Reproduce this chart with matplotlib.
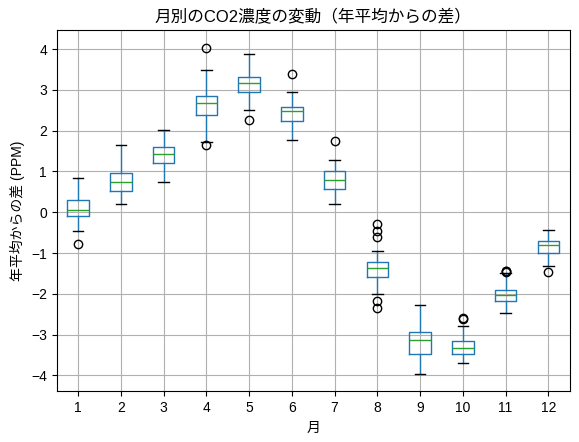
import matplotlib
matplotlib.use("Agg")
import matplotlib.pyplot as plt

plt.rcParams['font.family'] = ['Liberation Sans', 'Noto Sans CJK JP', 'DejaVu Sans']

months = [1, 2, 3, 4, 5, 6, 7, 8, 9, 10, 11, 12]
med = [0.06, 0.73, 1.42, 2.67, 3.17, 2.48, 0.78, -1.38, -3.14, -3.34, -2.04, -0.81]
q1 = [-0.08, 0.52, 1.21, 2.39, 2.94, 2.25, 0.58, -1.60, -3.48, -3.48, -2.17, -0.99]
q3 = [0.31, 0.97, 1.59, 2.86, 3.33, 2.59, 1.00, -1.21, -2.95, -3.17, -1.90, -0.70]
whislo = [-0.47, 0.21, 0.73, 1.73, 2.50, 1.77, 0.21, -2.00, -3.98, -3.69, -2.46, -1.33]
whishi = [0.85, 1.66, 2.03, 3.50, 3.89, 2.94, 1.27, -0.95, -2.27, -2.78, -1.49, -0.43]
fliers = [[-0.77], [], [], [4.04, 1.64], [2.27], [3.40], [1.74],
          [-0.29, -0.45, -0.61, -2.17, -2.36], [], [-2.61, -2.59],
          [-1.45, -1.47, -1.44], [-1.46]]

stats = []
for i in range(len(months)):
    stats.append(dict(med=med[i], q1=q1[i], q3=q3[i], whislo=whislo[i],
                      whishi=whishi[i], fliers=fliers[i], label=str(months[i])))

fig, ax = plt.subplots(figsize=(5.79, 4.42), dpi=100)
fig.subplots_adjust(left=0.098, right=0.984, top=0.932, bottom=0.115)

blue = '#1f77b4'
ax.bxp(stats, positions=range(1, 13), widths=0.5,
       boxprops=dict(color=blue),
       whiskerprops=dict(color=blue),
       capprops=dict(color='black'),
       medianprops=dict(color='#2ca02c'),
       flierprops=dict(marker='o', markerfacecolor='none',
                       markeredgecolor='black', markersize=6))
ax.grid(True)
ax.set_axisbelow(True)
ax.set_xlim(0.5, 12.5)
ax.set_ylim(-4.39, 4.47)
ax.set_title('月別のCO2濃度の変動（年平均からの差）')
ax.set_xlabel('月')
ax.set_ylabel('年平均からの差 (PPM)')

fig.savefig('out.png', dpi=100)
